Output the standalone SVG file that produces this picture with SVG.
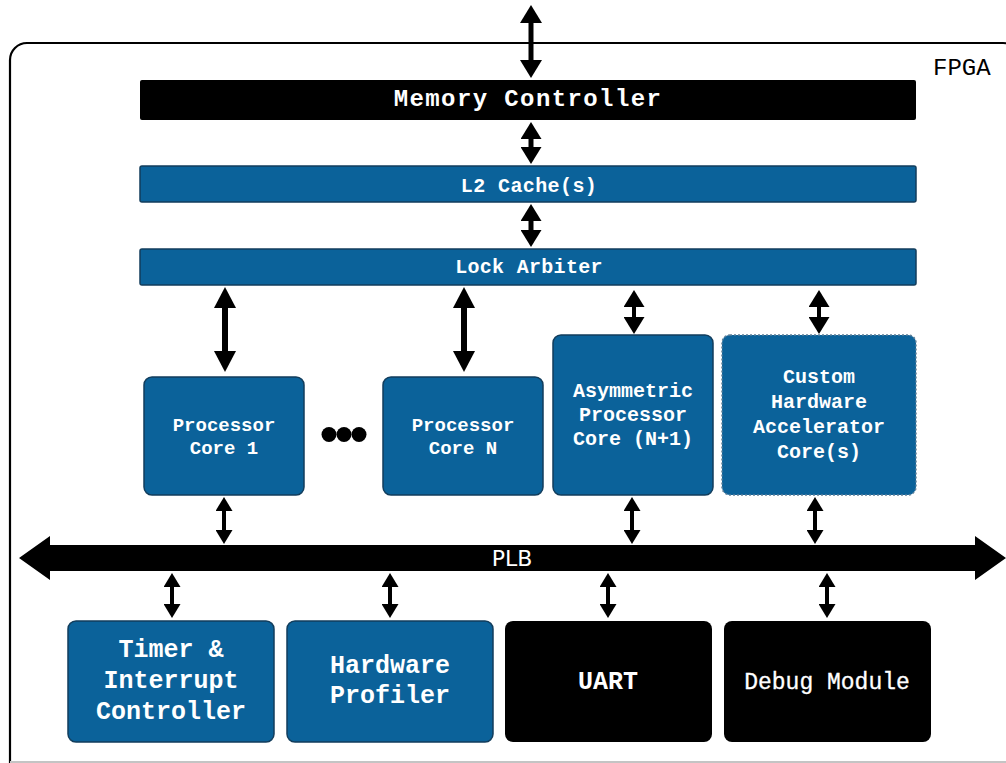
<svg xmlns="http://www.w3.org/2000/svg" width="1006" height="763" viewBox="0 0 1006 763">
  <defs>
    <style>
      .blk { fill: #000000; }
      .blue { fill: #0b629a; stroke: #123d5c; stroke-width: 1.5; }
      .blue-dot { fill: #0b629a; stroke: #5e7f98; stroke-width: 1.5; stroke-dasharray: 2 2; }
      .lbl { font-family: "Liberation Mono", "DejaVu Sans Mono", monospace; font-weight: bold; fill: #ffffff; text-anchor: middle; }
      .lbl.thin { font-weight: normal; stroke: #ffffff; stroke-width: 0.3; }
      .link { stroke: #000000; fill: none; }
    </style>
    <marker id="hd-t" markerUnits="userSpaceOnUse" markerWidth="18" markerHeight="22" refX="0" refY="11" orient="auto-start-reverse">
      <path d="M0,0 L18,11 L0,22 z" fill="#000"/>
    </marker>
    <marker id="hd-l" markerUnits="userSpaceOnUse" markerWidth="21" markerHeight="22" refX="0" refY="11" orient="auto-start-reverse">
      <path d="M0,0 L21,11 L0,22 z" fill="#000"/>
    </marker>
    <marker id="hd-m" markerUnits="userSpaceOnUse" markerWidth="17" markerHeight="21" refX="0" refY="10.5" orient="auto-start-reverse">
      <path d="M0,0 L17,10.5 L0,21 z" fill="#000"/>
    </marker>
    <marker id="hd-s" markerUnits="userSpaceOnUse" markerWidth="14" markerHeight="17" refX="0" refY="8.5" orient="auto-start-reverse">
      <path d="M0,0 L14,8.5 L0,17 z" fill="#000"/>
    </marker>
  </defs>

  <rect width="1006" height="763" fill="#ffffff"/>

  <!-- FPGA boundary -->
  <g id="fpga">
    <rect x="10" y="43" width="1010" height="740" rx="17" ry="17" fill="none" stroke="#000" stroke-width="2.2"/>
    <line x1="10" y1="762" x2="1006" y2="762" stroke="#c4c4c4" stroke-width="2"/>
    <text x="933" y="75" font-family="Liberation Mono, DejaVu Sans Mono, monospace" font-size="24" fill="#000">FPGA</text>
  </g>

  <!-- connectors -->
  <g id="connectors">
    <line class="link" x1="531" y1="23" x2="531" y2="60" stroke-width="5" marker-start="url(#hd-t)" marker-end="url(#hd-t)"/>
    <line class="link" x1="531" y1="139" x2="531" y2="147" stroke-width="5" marker-start="url(#hd-m)" marker-end="url(#hd-m)"/>
    <line class="link" x1="531" y1="221" x2="531" y2="230" stroke-width="5" marker-start="url(#hd-m)" marker-end="url(#hd-m)"/>
    <line class="link" x1="225" y1="308" x2="225" y2="351" stroke-width="6" marker-start="url(#hd-l)" marker-end="url(#hd-l)"/>
    <line class="link" x1="464" y1="308" x2="464" y2="351" stroke-width="6" marker-start="url(#hd-l)" marker-end="url(#hd-l)"/>
    <line class="link" x1="634" y1="307" x2="634" y2="317" stroke-width="4" marker-start="url(#hd-m)" marker-end="url(#hd-m)"/>
    <line class="link" x1="819" y1="307" x2="819" y2="317" stroke-width="4" marker-start="url(#hd-m)" marker-end="url(#hd-m)"/>
    <line class="link" x1="224" y1="511" x2="224" y2="530" stroke-width="4" marker-start="url(#hd-s)" marker-end="url(#hd-s)"/>
    <line class="link" x1="632" y1="511" x2="632" y2="530" stroke-width="4" marker-start="url(#hd-s)" marker-end="url(#hd-s)"/>
    <line class="link" x1="815" y1="511" x2="815" y2="530" stroke-width="4" marker-start="url(#hd-s)" marker-end="url(#hd-s)"/>
    <line class="link" x1="172" y1="587" x2="172" y2="604" stroke-width="4" marker-start="url(#hd-s)" marker-end="url(#hd-s)"/>
    <line class="link" x1="390" y1="587" x2="390" y2="604" stroke-width="4" marker-start="url(#hd-s)" marker-end="url(#hd-s)"/>
    <line class="link" x1="608" y1="587" x2="608" y2="604" stroke-width="4" marker-start="url(#hd-s)" marker-end="url(#hd-s)"/>
    <line class="link" x1="827" y1="587" x2="827" y2="604" stroke-width="4" marker-start="url(#hd-s)" marker-end="url(#hd-s)"/>
  </g>

  <g id="memory-controller">
    <rect class="blk" x="140" y="80" width="776" height="40" rx="2"/>
    <text class="lbl" x="528" y="106" font-size="24" letter-spacing="1.4">Memory Controller</text>
  </g>

  <g id="l2-cache">
    <rect class="blue" x="140" y="166" width="776" height="36" rx="2"/>
    <text class="lbl" x="529" y="192" font-size="20" letter-spacing="0.4">L2 Cache(s)</text>
  </g>

  <g id="lock-arbiter">
    <rect class="blue" x="140" y="249" width="776" height="36" rx="2"/>
    <text class="lbl" x="529" y="273" font-size="20" letter-spacing="0.3">Lock Arbiter</text>
  </g>

  <g id="core-1">
    <rect class="blue" x="144" y="377" width="160" height="118" rx="8"/>
    <text class="lbl" x="224" y="431" font-size="19">Processor</text>
    <text class="lbl" x="224" y="454" font-size="19">Core 1</text>
  </g>

  <g id="ellipsis">
    <circle cx="329" cy="434.5" r="7.5" fill="#000"/>
    <circle cx="344" cy="434.5" r="7.5" fill="#000"/>
    <circle cx="359" cy="434.5" r="7.5" fill="#000"/>
  </g>

  <g id="core-n">
    <rect class="blue" x="383" y="377" width="160" height="118" rx="8"/>
    <text class="lbl" x="463" y="431" font-size="19">Processor</text>
    <text class="lbl" x="463" y="454" font-size="19">Core N</text>
  </g>

  <g id="asymmetric-core">
    <rect class="blue" x="553" y="335" width="160" height="160" rx="8"/>
    <text class="lbl" x="633" y="397" font-size="20">Asymmetric</text>
    <text class="lbl" x="633" y="421" font-size="20">Processor</text>
    <text class="lbl" x="633" y="445" font-size="20">Core (N+1)</text>
  </g>

  <g id="accelerator-core">
    <rect class="blue-dot" x="722" y="335" width="194" height="160" rx="8"/>
    <text class="lbl" x="819" y="383" font-size="20">Custom</text>
    <text class="lbl" x="819" y="408" font-size="20">Hardware</text>
    <text class="lbl" x="819" y="433" font-size="20">Accelerator</text>
    <text class="lbl" x="819" y="458" font-size="20">Core(s)</text>
  </g>

  <g id="plb">
    <polygon class="blk" points="19,558 50,536 50,545 975,545 975,536 1006,558 975,580 975,571 50,571 50,580"/>
    <text x="512" y="566" font-family="DejaVu Sans, Liberation Sans, sans-serif" font-size="22" fill="#ffffff" text-anchor="middle">PLB</text>
  </g>

  <g id="timer-interrupt">
    <rect class="blue" x="68" y="621" width="206" height="121" rx="8"/>
    <text class="lbl" x="171" y="657" font-size="25">Timer &amp;</text>
    <text class="lbl" x="171" y="688" font-size="25">Interrupt</text>
    <text class="lbl" x="171" y="719" font-size="25">Controller</text>
  </g>

  <g id="hardware-profiler">
    <rect class="blue" x="287" y="621" width="206" height="121" rx="8"/>
    <text class="lbl" x="390" y="673" font-size="25">Hardware</text>
    <text class="lbl" x="390" y="703" font-size="25">Profiler</text>
  </g>

  <g id="uart">
    <rect class="blk" x="505" y="621" width="207" height="121" rx="8"/>
    <text class="lbl" x="608" y="689" font-size="25">UART</text>
  </g>

  <g id="debug-module">
    <rect class="blk" x="724" y="621" width="207" height="121" rx="8"/>
    <text class="lbl thin" x="827" y="689" font-size="23">Debug Module</text>
  </g>
</svg>
